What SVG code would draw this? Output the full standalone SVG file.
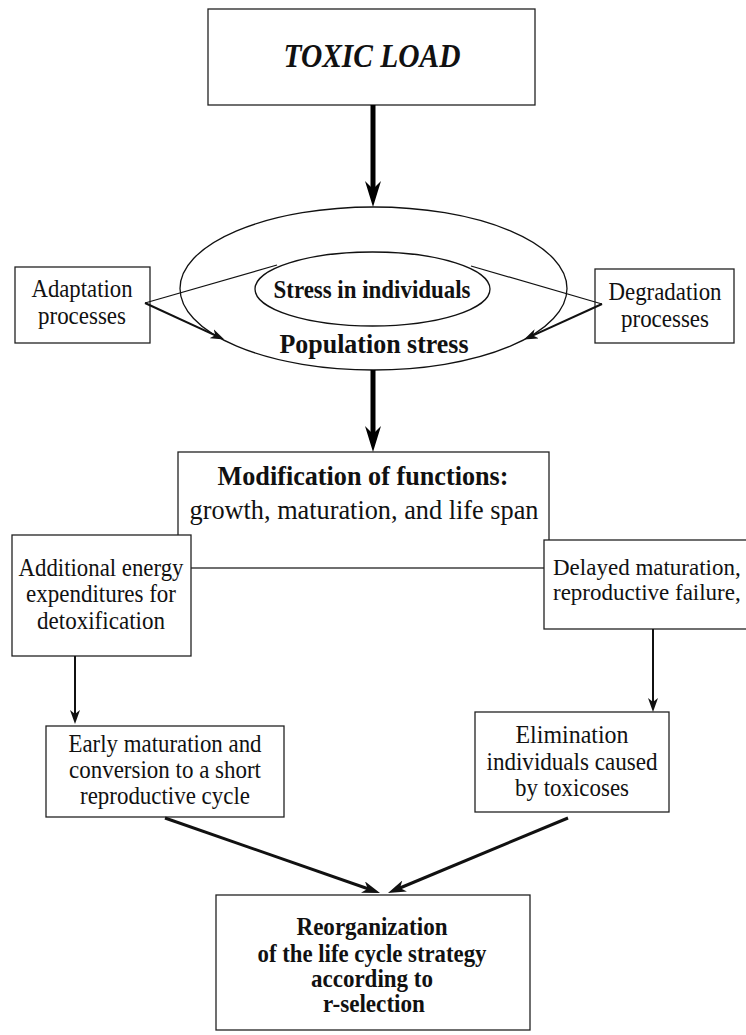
<svg xmlns="http://www.w3.org/2000/svg" width="746" height="1035" viewBox="0 0 746 1035">
<style>
.box{fill:#fff;stroke:#222;stroke-width:1.3}
.ell{fill:none;stroke:#111;stroke-width:1.3}
.t{font-family:"Liberation Serif","Times New Roman",serif;font-size:25px;fill:#111;text-anchor:middle}
.b{font-weight:bold}
.thin{stroke:#111;stroke-width:1.2;fill:none}
.a2{stroke:#111;stroke-width:2;fill:none}
.a3{stroke:#111;stroke-width:3;fill:none}
.a5{stroke:#000;stroke-width:5;fill:none}
</style>
<defs>
<marker id="mBig" markerUnits="userSpaceOnUse" markerWidth="26" markerHeight="16" refX="13" refY="8" orient="auto"><path d="M0,0 L26,8 L0,16 L8,8 z" fill="#000"/></marker>
<marker id="mMed" markerUnits="userSpaceOnUse" markerWidth="18" markerHeight="12" refX="9" refY="6" orient="auto"><path d="M0,0 L18,6 L0,12 L5,6 z" fill="#111"/></marker>
<marker id="mSm" markerUnits="userSpaceOnUse" markerWidth="14" markerHeight="10" refX="7" refY="5" orient="auto"><path d="M0,0 L14,5 L0,10 L4,5 z" fill="#111"/></marker>
</defs>
<rect width="746" height="1035" fill="#fff"/>

<g id="toxic-load">
<rect class="box" x="208" y="9" width="327" height="96"/>
<text class="t b" x="372" y="67" style="font-size:33px;font-style:italic" textLength="177" lengthAdjust="spacingAndGlyphs">TOXIC LOAD</text>
</g>

<g id="population-stress">
<ellipse class="ell" cx="373.5" cy="288.5" rx="193.5" ry="81.5"/>
<text class="t b" x="374" y="353" style="font-size:27px" textLength="189" lengthAdjust="spacingAndGlyphs">Population stress</text>
</g>

<g id="stress-individuals">
<ellipse class="ell" cx="372.5" cy="289" rx="117.5" ry="37"/>
<text class="t b" x="372" y="298" textLength="197" lengthAdjust="spacingAndGlyphs">Stress in individuals</text>
</g>

<g id="adaptation">
<rect class="box" x="15" y="267" width="135" height="76"/>
<text class="t" x="82" y="297" textLength="101" lengthAdjust="spacingAndGlyphs">Adaptation</text>
<text class="t" x="82" y="324" textLength="88" lengthAdjust="spacingAndGlyphs">processes</text>
</g>

<g id="degradation">
<rect class="box" x="595" y="269" width="139" height="74"/>
<text class="t" x="665" y="300" textLength="113" lengthAdjust="spacingAndGlyphs">Degradation</text>
<text class="t" x="665" y="327" textLength="88" lengthAdjust="spacingAndGlyphs">processes</text>
</g>

<g id="modification">
<rect class="box" x="178" y="452" width="371" height="116"/>
<text class="t b" x="363" y="485" style="font-size:27px" textLength="291" lengthAdjust="spacingAndGlyphs">Modification of functions:</text>
<text class="t" x="364" y="519" style="font-size:27px" textLength="349" lengthAdjust="spacingAndGlyphs">growth, maturation, and life span</text>
</g>

<g id="additional-energy">
<rect class="box" x="12" y="535" width="179" height="121"/>
<text class="t" x="101" y="576" textLength="165" lengthAdjust="spacingAndGlyphs">Additional energy</text>
<text class="t" x="101" y="602" textLength="150" lengthAdjust="spacingAndGlyphs">expenditures for</text>
<text class="t" x="101" y="629" textLength="128" lengthAdjust="spacingAndGlyphs">detoxification</text>
</g>

<g id="delayed-maturation">
<rect class="box" x="544" y="540" width="230" height="89"/>
<text class="t" x="553" y="575" style="text-anchor:start;font-size:23px">Delayed maturation,</text>
<text class="t" x="553" y="600" style="text-anchor:start;font-size:23px">reproductive failure,</text>
</g>

<g id="early-maturation">
<rect class="box" x="46" y="726" width="238" height="91"/>
<text class="t" x="165" y="752" textLength="193" lengthAdjust="spacingAndGlyphs">Early maturation and</text>
<text class="t" x="165" y="778" textLength="192" lengthAdjust="spacingAndGlyphs">conversion to a short</text>
<text class="t" x="165" y="804" textLength="170" lengthAdjust="spacingAndGlyphs">reproductive cycle</text>
</g>

<g id="elimination">
<rect class="box" x="475" y="712" width="194" height="100"/>
<text class="t" x="572" y="743" textLength="113" lengthAdjust="spacingAndGlyphs">Elimination</text>
<text class="t" x="572" y="770" textLength="171" lengthAdjust="spacingAndGlyphs">individuals caused</text>
<text class="t" x="572" y="796" textLength="114" lengthAdjust="spacingAndGlyphs">by toxicoses</text>
</g>

<g id="reorganization">
<rect class="box" x="216" y="895" width="314" height="135"/>
<text class="t b" x="372" y="935" textLength="151" lengthAdjust="spacingAndGlyphs">Reorganization</text>
<text class="t b" x="372" y="962" textLength="229" lengthAdjust="spacingAndGlyphs">of the life cycle strategy</text>
<text class="t b" x="372" y="987" textLength="122" lengthAdjust="spacingAndGlyphs">according to</text>
<text class="t b" x="374" y="1012" textLength="102" lengthAdjust="spacingAndGlyphs">r-selection</text>
</g>

<g id="connectors">
<line class="a5" x1="373" y1="105" x2="373" y2="194" marker-end="url(#mBig)"/>
<line class="a5" x1="373" y1="370" x2="373" y2="439" marker-end="url(#mBig)"/>
<line class="thin" x1="145" y1="303" x2="277" y2="265"/>
<line class="thin" x1="602" y1="304" x2="471" y2="266"/>
<line class="a2" x1="145" y1="303" x2="218" y2="336.6" marker-end="url(#mSm)"/>
<line class="a2" x1="602" y1="304" x2="530.3" y2="336.7" marker-end="url(#mSm)"/>
<line class="a2" x1="75" y1="656" x2="75" y2="717" marker-end="url(#mSm)"/>
<line class="a2" x1="653" y1="629" x2="653" y2="705" marker-end="url(#mSm)"/>
<line class="a3" x1="165" y1="818" x2="371.5" y2="890" marker-end="url(#mMed)"/>
<line class="a3" x1="568" y1="818" x2="396.3" y2="889.5" marker-end="url(#mMed)"/>
</g>
</svg>
